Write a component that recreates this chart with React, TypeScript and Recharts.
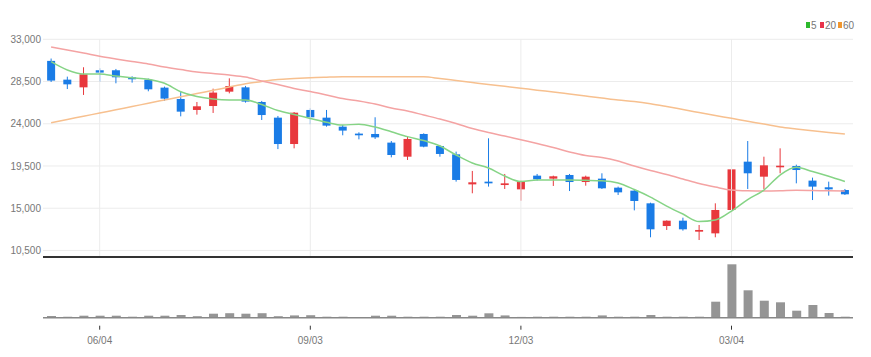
import React from "react";
import {
  ComposedChart,
  Bar,
  Line,
  XAxis,
  YAxis,
  CartesianGrid,
  ReferenceLine,
} from "recharts";

const dates = [
  "05/14", "05/21", "05/28", "06/04", "06/11", "06/18", "06/25", "07/02", "07/09", "07/16",
  "07/23", "07/30", "08/06", "08/13", "08/20", "08/27", "09/03", "09/10", "09/17", "09/24",
  "10/01", "10/08", "10/15", "10/22", "10/29", "11/05", "11/12", "11/19", "11/26", "12/03",
  "12/10", "12/17", "12/24", "12/31", "01/07", "01/14", "01/21", "01/28", "02/04", "02/11",
  "02/18", "02/25", "03/04", "03/11", "03/18", "03/25", "04/01", "04/08", "04/15", "04/22",
];

const opens = [
  30700, 28700, 27880, 29700, 29700, 28950, 28700, 27850, 26640, 25470,
  25890, 27420, 27880, 26320, 24650, 21840, 25470, 24650, 23690, 22950,
  22910, 21990, 20490, 22910, 21630, 20740, 17540, 17830, 17470, 17010,
  18470, 18150, 18540, 17790, 18150, 17190, 16870, 15520, 13100, 13670,
  12500, 12320, 14810, 19960, 18360, 19360, 19500, 17940, 17230, 16940,
];
const highs = [
  30950, 29020, 30020, 29910, 29840, 29060, 28810, 27960, 27460, 26320,
  27740, 28840, 28030, 26430, 24830, 25250, 25650, 25470, 23870, 23090,
  24690, 22160, 22630, 22980, 21740, 21030, 18970, 22450, 18650, 17940,
  18650, 18470, 18650, 18470, 18720, 17300, 17010, 15590, 13700, 13990,
  13210, 15520, 22160, 22160, 20490, 21380, 19640, 18260, 17830, 17050,
];
const lows = [
  28450, 27700, 27070, 28490, 28310, 28380, 27460, 26430, 24790, 24970,
  25150, 27240, 26250, 24400, 21300, 21380, 23940, 23690, 22770, 22340,
  22380, 20420, 20140, 21490, 20490, 17830, 16590, 17300, 17050, 15800,
  17940, 17370, 16830, 17400, 17050, 16410, 14770, 11900, 12680, 12610,
  11610, 11900, 14630, 17050, 17050, 18720, 17650, 15870, 16340, 16410,
];
const closes = [
  28600, 28200, 29270, 29450, 28950, 28740, 27670, 26680, 25290, 25860,
  27320, 28020, 26360, 24930, 21840, 25180, 24690, 23800, 23270, 22770,
  22550, 20670, 22380, 21560, 20780, 18010, 17760, 17650, 17650, 17830,
  18080, 18400, 17790, 18360, 17120, 16690, 15770, 12750, 13670, 12750,
  12680, 14810, 19140, 18720, 19570, 19530, 19070, 17300, 17010, 16480,
];
const ma5 = [
  30612, 29727, 29301, 29301, 29088, 28907, 28736, 28310, 27414, 26902,
  26636, 26530, 26530, 26050, 25410, 24984, 24568, 24152, 23864, 23950,
  23651, 23150, 22628, 22212, 21626, 20666, 19814, 19280, 18428, 17842,
  18001, 18001, 18001, 17969, 17927, 17681, 16989, 16189, 15230, 14377,
  13577, 13737, 14697, 15923, 16935, 18534, 19355, 18907, 18396, 17842,
];
const ma20 = [
  32179, 31859, 31540, 31188, 30900, 30633, 30367, 30047, 29781, 29514,
  29354, 29194, 28981, 28555, 28182, 27755, 27435, 27062, 26689, 26423,
  26103, 25677, 25357, 24930, 24504, 24024, 23491, 23065, 22692, 22287,
  21892, 21466, 20986, 20613, 20400, 20027, 19494, 19014, 18588, 18108,
  17628, 17255, 16935, 16850, 16829, 16850, 16903, 16882, 16850, 16829,
];
const ma60 = [
  24110, 24451, 24802, 25144, 25495, 25836, 26188, 26529, 26870, 27222,
  27563, 27915, 28256, 28501, 28715, 28821, 28907, 28960, 29002, 29013,
  29013, 29013, 29013, 29002, 28821, 28608, 28395, 28182, 27990, 27787,
  27574, 27382, 27169, 26956, 26743, 26529, 26369, 26135, 25836, 25517,
  25197, 24877, 24579, 24259, 23971, 23651, 23438, 23246, 23065, 22905,
];
const volumes = [
  170, 100, 200, 200, 200, 100, 200, 200, 270, 150,
  400, 450, 400, 450, 150, 230, 250, 100, 100, 50,
  200, 200, 100, 100, 100, 270, 200, 440, 230, 80,
  100, 100, 100, 100, 230, 100, 100, 270, 100, 100,
  100, 1600, 5340, 2740, 1700, 1540, 700, 1270, 470, 100,
];

const priceTicks = [10500, 15000, 19500, 24000, 28500, 33000];
const dateTicks = ["06/04", "09/03", "12/03", "03/04"];
const priceDomain = [9800, 33000];
const volumeDomain = [0, 5570];

const data = dates.map((date, i) => ({
  date,
  open: opens[i],
  high: highs[i],
  low: lows[i],
  close: closes[i],
  ma5: ma5[i],
  ma20: ma20[i],
  ma60: ma60[i],
  volume: volumes[i],
}));

const RED = "#e8383d";
const BLUE = "#1a7ce6";
const FONT = '"Liberation Sans Narrow", "Liberation Sans", Arial, sans-serif';

const Candle = (props: any) => {
  const { x, y, width, height, payload } = props;
  if (!payload) return null;
  const { open, close, high, low } = payload;
  const top = Math.min(y, y + height);
  const h = Math.abs(height);
  const px = (v: number) => (high === low ? top : top + ((high - v) / (high - low)) * h);
  const up = close >= open;
  const color = up ? RED : BLUE;
  const cx = x + width / 2;
  const bodyTop = px(Math.max(open, close));
  const bodyBot = px(Math.min(open, close));
  const bw = 8;
  return (
    <g>
      <line x1={cx} x2={cx} y1={top} y2={top + h} stroke={color} strokeWidth={1} />
      <rect x={cx - bw / 2} y={bodyTop} width={bw} height={Math.max(1.5, bodyBot - bodyTop)} fill={color} />
    </g>
  );
};

const DateTick = (props: any) => {
  const { x, y, payload } = props;
  if (!dateTicks.includes(payload.value)) return null;
  return (
    <g>
      <line x1={x} x2={x} y1={y} y2={y + 4} stroke="#333" strokeWidth={1} />
      <text x={x} y={y + 18} textAnchor="middle" fontSize={10} fill="#777" fontFamily={FONT}>
        {payload.value}
      </text>
    </g>
  );
};

const legendItems = [
  { label: "5", color: "#2db92d", left: 806 },
  { label: "20", color: "#e8334a", left: 820 },
  { label: "60", color: "#f0962e", left: 838 },
];

export default function App() {
  return (
    <div style={{ position: "absolute", left: 0, top: 0, width: 871, height: 357, background: "#fff" }}>
      {legendItems.map((it) => (
        <div
          key={it.label}
          style={{
            position: "absolute",
            left: it.left,
            top: 19,
            height: 12,
            display: "flex",
            alignItems: "center",
            fontFamily: FONT,
            fontSize: 10,
            color: "#777",
          }}
        >
          <span style={{ display: "inline-block", width: 4, height: 6, background: it.color, marginRight: 1 }} />
          <span>{it.label}</span>
        </div>
      ))}
      <div style={{ position: "absolute", left: 0, top: 0 }}>
        <ComposedChart width={871} height={260} data={data} margin={{ top: 39.3, right: 18, left: 0, bottom: 3 }}>
          <CartesianGrid vertical={false} stroke="#ececec" />
          <XAxis dataKey="date" hide />
          <YAxis
            type="number"
            domain={priceDomain}
            ticks={priceTicks}
            width={43}
            axisLine={false}
            tickLine={false}
            tickSize={0}
            tickMargin={2}
            allowDataOverflow
            tick={{ fontSize: 10, fill: "#777", fontFamily: FONT }}
            tickFormatter={(v: number) => v.toLocaleString("en-US")}
          />
          {dateTicks.map((d) => (
            <ReferenceLine key={d} x={d} stroke="#ececec" />
          ))}
          <Line type="monotone" dataKey="ma60" stroke="#f7c08f" strokeWidth={1.5} dot={false} isAnimationActive={false} />
          <Line type="monotone" dataKey="ma20" stroke="#f4a3a3" strokeWidth={1.5} dot={false} isAnimationActive={false} />
          <Bar dataKey={(d: any) => [d.low, d.high]} shape={Candle} isAnimationActive={false} />
          <Line type="monotone" dataKey="ma5" stroke="#86d486" strokeWidth={1.5} dot={false} isAnimationActive={false} />
          <ReferenceLine y={priceDomain[0]} stroke="#333" strokeWidth={2} />
        </ComposedChart>
      </div>
      <div style={{ position: "absolute", left: 0, top: 258 }}>
        <ComposedChart width={871} height={90} data={data} margin={{ top: 4, right: 18, left: 43, bottom: 0 }}>
          <XAxis
            dataKey="date"
            height={30.3}
            interval={0}
            tickLine={false}
            axisLine={{ stroke: "#888", strokeWidth: 1.5 }}
            tick={<DateTick />}
          />
          <YAxis hide domain={volumeDomain} />
          <Bar dataKey="volume" fill="#959595" barSize={9} isAnimationActive={false} />
        </ComposedChart>
      </div>
    </div>
  );
}
